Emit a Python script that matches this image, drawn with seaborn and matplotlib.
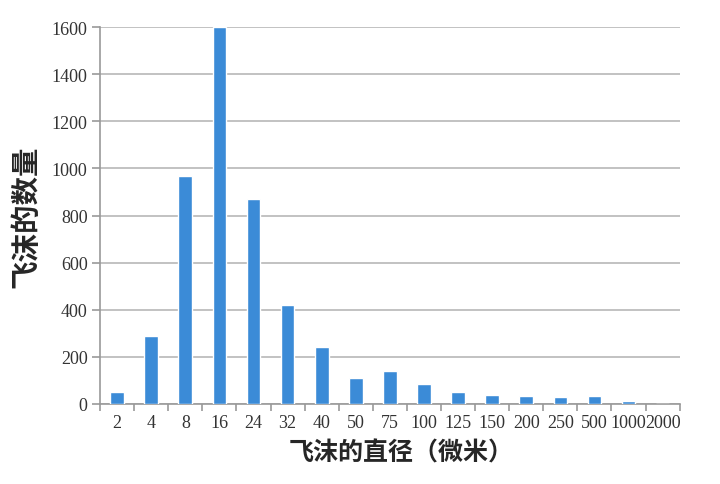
import matplotlib
matplotlib.use("Agg")
import matplotlib.pyplot as plt
import seaborn as sns
import pandas as pd

# droplet diameter (micrometres) and droplet counts
diameters = ["2", "4", "8", "16", "24", "32", "40", "50", "75", "100",
             "125", "150", "200", "250", "500", "1000", "2000"]
counts = [50, 290, 970, 1600, 870, 420, 240, 110, 140, 85,
          50, 40, 35, 30, 35, 12, 0]
y_ticks = [0, 200, 400, 600, 800, 1000, 1200, 1400, 1600]

df = pd.DataFrame({"diameter": diameters, "count": counts})

sns.set_style("white")
plt.rcParams['font.family'] = ['Noto Sans CJK SC', 'DejaVu Sans']

fig = plt.figure(figsize=(7.2, 4.85), dpi=100)
ax = fig.add_axes([0.139, 0.165, 0.805, 0.777])

sns.barplot(data=df, x="diameter", y="count", color="#3b8bd7",
            saturation=1, width=0.4, ax=ax, zorder=3)

ax.set_ylim(0, 1600)
ax.set_xlim(-0.5, len(diameters) - 0.5)
ax.set_yticks(y_ticks)
ax.yaxis.grid(True, color="#b8b8b8", linewidth=1.2, zorder=0)
ax.set_axisbelow(True)

tick_font = {"family": "Liberation Serif", "size": 13, "color": "#333333"}
ax.set_yticklabels([str(v) for v in y_ticks], fontdict=tick_font)
ax.set_xticks(range(len(diameters)))
ax.set_xticklabels(diameters, fontdict=tick_font)

# tick marks sit between categories on the x axis
ax.set_xticks([i - 0.5 for i in range(len(diameters) + 1)], minor=True)
ax.tick_params(axis="x", which="major", bottom=True, length=0, pad=7)
ax.tick_params(axis="x", which="minor", bottom=True, length=5,
               width=1.2, color="#999999", direction="out")
ax.tick_params(axis="y", left=True, length=6, width=1.2,
               color="#999999", direction="out", pad=3)

for side in ["top", "right"]:
    ax.spines[side].set_visible(False)
for side in ["left", "bottom"]:
    ax.spines[side].set_color("#999999")
    ax.spines[side].set_linewidth(1.2)

ax.set_xlabel("飞沫的直径（微米）", fontsize=18, fontweight="bold")
ax.xaxis.set_label_coords(0.52, -0.097)
ax.set_ylabel("飞沫的数量", fontsize=20.5, fontweight="bold")
ax.yaxis.set_label_coords(-0.103, 0.5)

fig.savefig("out.png", dpi=100)
